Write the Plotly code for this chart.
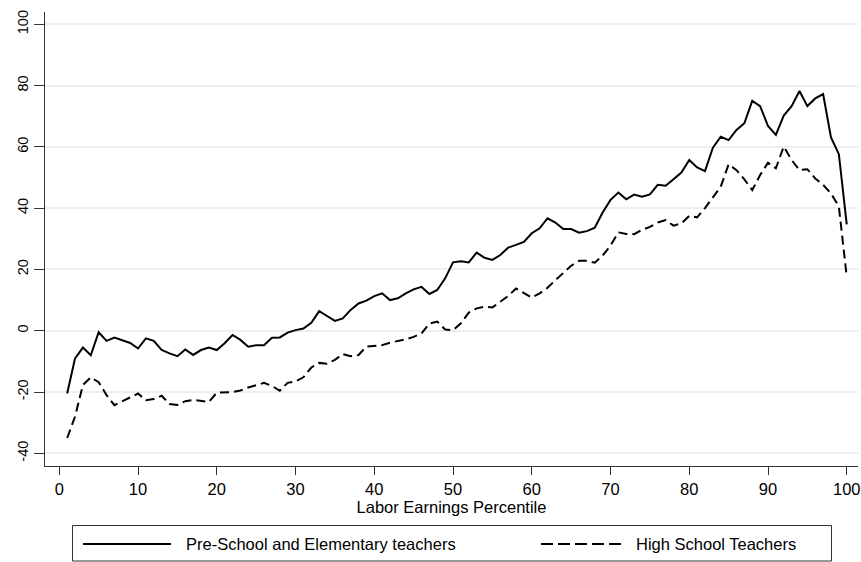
import plotly.graph_objects as go

percentile = list(range(1, 101))

elementary = [
    -20.5, -9.0, -5.5, -8.0, -0.5, -3.3, -2.2, -3.0, -4.0, -5.8,
    -2.5, -3.3, -6.3, -7.4, -8.3, -6.1, -7.9, -6.3, -5.5, -6.3,
    -4.1, -1.4, -3.0, -5.2, -4.7, -4.7, -2.3, -2.2, -0.6, 0.2,
    0.7, 2.6, 6.4, 4.8, 3.2, 4.0, 6.8, 8.9, 9.8, 11.3,
    12.2, 10.0, 10.6, 12.2, 13.5, 14.3, 12.0, 13.3, 17.1, 22.3,
    22.7, 22.3, 25.5, 23.8, 23.1, 24.7, 27.1, 28.0, 29.0, 31.8,
    33.4, 36.7, 35.3, 33.2, 33.2, 32.0, 32.5, 33.6, 38.6, 42.7,
    45.1, 42.9, 44.4, 43.7, 44.5, 47.6, 47.3, 49.4, 51.6, 55.7,
    53.3, 52.1, 59.7, 63.3, 62.2, 65.5, 67.7, 75.0, 73.3, 66.8,
    63.9, 70.2, 73.3, 78.2, 73.3, 75.8, 77.2, 63.1, 57.6, 34.7,
]

high_school = [
    -35.0, -28.0, -17.7, -15.2, -16.8, -21.0, -24.3, -23.0, -21.8, -20.5,
    -22.7, -22.3, -21.2, -23.9, -24.2, -23.0, -22.6, -22.8, -23.2, -20.2,
    -20.2, -20.0, -19.5, -18.5, -17.8, -17.0, -18.0, -19.6, -17.0, -16.5,
    -15.2, -12.0, -10.5, -10.8, -9.5, -7.6, -8.3, -7.9, -5.2, -4.9,
    -4.7, -3.9, -3.4, -2.8, -2.0, -0.9, 2.3, 3.0, 0.4, 0.2,
    2.4, 5.9, 7.3, 7.8, 7.6, 9.5, 11.3, 13.8, 12.3, 10.8,
    12.2, 14.0, 16.5, 18.9, 21.2, 22.8, 22.8, 22.2, 24.5, 27.8,
    32.1, 31.6, 31.5, 32.9, 33.9, 35.3, 36.1, 34.3, 35.0, 37.5,
    37.0, 40.0, 43.7, 47.0, 54.3, 52.4, 49.4, 45.9, 50.8, 54.8,
    53.0, 60.1, 55.7, 52.4, 52.7, 49.7, 47.6, 44.8, 40.5, 17.6,
]

series_names = ["Pre-School and Elementary teachers", "High School Teachers"]
x_ticks = list(range(0, 101, 10))
y_ticks = list(range(-40, 101, 20))
x_title = "Labor Earnings Percentile"

FONT = "Liberation Sans, Arial, sans-serif"

fig = go.Figure()
fig.add_trace(go.Scatter(x=percentile, y=elementary, mode="lines",
                         name=series_names[0],
                         line=dict(color="black", width=2)))
fig.add_trace(go.Scatter(x=percentile, y=high_school, mode="lines",
                         name=series_names[1],
                         line=dict(color="black", width=2, dash="9px,5px")))

W, H = 861, 562
ml, mr, mt, mb = 45, 3, 12, 96
pw, ph = W - ml - mr, H - mt - mb


def px_x(px):
    return (px - ml) / pw


def px_y(py):
    return (H - mb - py) / ph


shapes = [
    dict(type="rect", xref="paper", yref="paper",
         x0=px_x(72.5), x1=px_x(831.5), y0=px_y(561), y1=px_y(525.5),
         line=dict(color="#333333", width=1), fillcolor="white", layer="above"),
    dict(type="line", xref="paper", yref="paper",
         x0=px_x(83), x1=px_x(171), y0=px_y(544), y1=px_y(544),
         line=dict(color="black", width=2)),
    dict(type="line", xref="paper", yref="paper",
         x0=px_x(541), x1=px_x(626), y0=px_y(544), y1=px_y(544),
         line=dict(color="black", width=2, dash="12px,5px")),
]

annotations = [
    dict(xref="paper", yref="paper", x=px_x(184), y=px_y(544),
         text=series_names[0], showarrow=False, xanchor="left", yanchor="middle",
         font=dict(family=FONT, size=16.5, color="black")),
    dict(xref="paper", yref="paper", x=px_x(634), y=px_y(544),
         text=series_names[1], showarrow=False, xanchor="left", yanchor="middle",
         font=dict(family=FONT, size=16.5, color="black")),
]

fig.update_layout(
    width=W, height=H,
    margin=dict(l=ml, r=mr, t=mt, b=mb, pad=0),
    paper_bgcolor="white", plot_bgcolor="white",
    showlegend=False,
    font=dict(family=FONT, color="black"),
    shapes=shapes,
    annotations=annotations,
    xaxis=dict(
        range=[-1.816, 101.43], tickvals=x_ticks, ticktext=[str(v) for v in x_ticks],
        showgrid=False, zeroline=False,
        showline=True, linecolor="#333333", linewidth=1,
        ticks="outside", ticklen=8, tickcolor="#333333", tickwidth=1,
        tickfont=dict(family=FONT, size=16.5, color="black"),
        title=dict(text=x_title, font=dict(family=FONT, size=16.5, color="black"), standoff=0),
        automargin=False,
    ),
    yaxis=dict(
        range=[-44.14, 104.0], tickvals=y_ticks, ticktext=[str(v) for v in y_ticks],
        showgrid=True, gridcolor="#e8f0f2", gridwidth=1.5,
        zeroline=False,
        showline=True, linecolor="#333333", linewidth=1,
        ticks="outside", ticklen=10, tickcolor="#333333", tickwidth=1,
        tickangle=-90,
        tickfont=dict(family=FONT, size=14.5, color="black"),
        automargin=False,
    ),
)

fig.write_html("out.html")
